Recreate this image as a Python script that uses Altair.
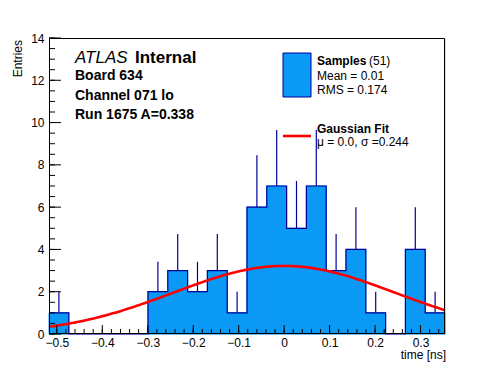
import altair as alt
import pandas as pd
import numpy as np

# ---- data ----
counts = [1, 0, 0, 0, 0, 2, 3, 2, 3, 1, 6, 7, 5, 7, 3, 4, 1, 0, 4, 1]
x_min = -0.5172
bin_width = 0.04355
n_bins = len(counts)
x_max = x_min + n_bins * bin_width

fit_mu = 0.0
fit_sigma = 0.244
fit_amp = 3.22

x_major = [-0.5, -0.4, -0.3, -0.2, -0.1, 0.0, 0.1, 0.2, 0.3]
x_minor = [round(-0.50 + 0.02 * i, 2) for i in range(43)]
y_major = [0, 2, 4, 6, 8, 10, 12, 14]
y_minor = [0.5 * i for i in range(29)]

W, H = 396, 296
FONT = "Liberation Sans"
FILL = "#0a9af6"
NAVY = "#000099"

# ---- tables ----
left = [x_min + i * bin_width for i in range(n_bins)]
hist = pd.DataFrame({
    "left": left,
    "right": [l + bin_width for l in left],
    "center": [l + bin_width / 2 for l in left],
    "count": counts,
    "base": [0] * n_bins,
})
outline = pd.DataFrame({
    "edge": left + [x_max],
    "level": counts + [counts[-1]],
})
xs = np.linspace(x_min, x_max, 240)
fit = pd.DataFrame({
    "t": xs,
    "g": fit_amp * np.exp(-0.5 * ((xs - fit_mu) / fit_sigma) ** 2),
})
xmaj = pd.DataFrame({"v": x_major})
xmin_df = pd.DataFrame({"v": x_minor})
ymaj = pd.DataFrame({"v": y_major})
ymin_df = pd.DataFrame({"v": y_minor})
one = pd.DataFrame({"a": [0]})

xscale = alt.Scale(domain=[x_min, x_max], nice=False, zero=False)
yscale = alt.Scale(domain=[0, 14], nice=False, zero=True)
xaxis = alt.Axis(values=x_major, ticks=False, domain=False, grid=False, title=None,
                 labelFont=FONT, labelFontSize=12, labelColor="black", labelPadding=3,
                 labelExpr="datum.value == 0 ? '0' : format(datum.value, '.1f')")
yaxis = alt.Axis(values=y_major, ticks=False, domain=False, grid=False, title=None,
                 labelFont=FONT, labelFontSize=12, labelColor="black", labelPadding=5,
                 format="d")

def X(field):
    return alt.X(field, type="quantitative", scale=xscale, axis=xaxis)

def Y(field):
    return alt.Y(field, type="quantitative", scale=yscale, axis=yaxis)

bars = alt.Chart(hist).transform_filter("datum.count > 0").mark_rect(
    fill=FILL, stroke=FILL, strokeWidth=1).encode(
    x=X("left"), x2="right", y=Y("count"), y2="base")

steps = alt.Chart(outline).mark_line(color=NAVY, strokeWidth=1.2, interpolate="step-after").encode(
    x=X("edge"), y=Y("level"))

errs = alt.Chart(hist).transform_filter("datum.count > 0").transform_calculate(
    hi="datum.count + sqrt(datum.count)").mark_rule(color=NAVY, strokeWidth=1.2).encode(
    x=X("center"), y=Y("count"), y2="hi:Q")

curve = alt.Chart(fit).mark_line(color="#ff0000", strokeWidth=2.6).encode(
    x=X("t"), y=Y("g"))

xt_major = alt.Chart(xmaj).mark_rule(color="black", strokeWidth=1).encode(
    x=X("v"), y=alt.value(H), y2=alt.value(H - 9))
xt_minor = alt.Chart(xmin_df).mark_rule(color="black", strokeWidth=1).encode(
    x=X("v"), y=alt.value(H), y2=alt.value(H - 5))
yt_major = alt.Chart(ymaj).mark_rule(color="black", strokeWidth=1).encode(
    y=Y("v"), x=alt.value(0), x2=alt.value(12))
yt_minor = alt.Chart(ymin_df).mark_rule(color="black", strokeWidth=1).encode(
    y=Y("v"), x=alt.value(0), x2=alt.value(6))

frame = alt.Chart(one).mark_rect(fillOpacity=0, stroke="black", strokeWidth=1).encode(
    x=alt.value(0.5), x2=alt.value(W - 0.5), y=alt.value(0.5), y2=alt.value(H - 0.5))

def txt(s, x, y, size=12, weight="normal", style="normal", align="left", angle=0):
    kw = dict(text=s, align=align, baseline="alphabetic", font=FONT, fontSize=size,
              fontWeight=weight, fontStyle=style, color="black")
    if angle:
        kw["angle"] = angle
    return alt.Chart(one).mark_text(**kw).encode(x=alt.value(x), y=alt.value(y))

labels = [
    txt("ATLAS", 26, 25, 17, style="italic"),
    txt("Internal", 86, 25, 17, weight="bold"),
    txt("Board 634", 26, 42, 14, weight="bold"),
    txt("Channel 071 lo", 26, 62, 14, weight="bold"),
    txt("Run 1675 A=0.338", 26, 81, 14, weight="bold"),
    txt("Samples", 268, 27, 12, weight="bold"),
    txt("(51)", 320, 27, 12),
    txt("Mean = 0.01", 268, 42, 12),
    txt("RMS = 0.174", 268, 56, 12),
    txt("Gaussian Fit", 268, 95, 12, weight="bold"),
    txt("\u03bc = 0.0, \u03c3 =0.244", 268, 108, 12),
    txt("time [ns]", W + 1, 321, 12, align="right"),
    txt("Entries", -27, 2, 12, align="right", angle=270),
]

leg_box = alt.Chart(one).mark_rect(color=FILL, stroke=NAVY, strokeWidth=1).encode(
    x=alt.value(234), x2=alt.value(262), y=alt.value(15), y2=alt.value(59))
leg_line = alt.Chart(one).mark_rule(color="#ff0000", strokeWidth=2.6).encode(
    x=alt.value(234), x2=alt.value(262), y=alt.value(98))

chart = alt.layer(
    bars, steps, errs, curve, xt_major, xt_minor, yt_major, yt_minor, frame,
    leg_box, leg_line, *labels
).properties(
    width=W, height=H,
    autosize=alt.AutoSizeParams(type="none"),
    padding={"left": 41, "top": 30, "right": 43, "bottom": 30},
).configure_view(stroke=None).configure(background="white")

chart.save("out.html", embed_options={"renderer": "svg", "actions": False})
